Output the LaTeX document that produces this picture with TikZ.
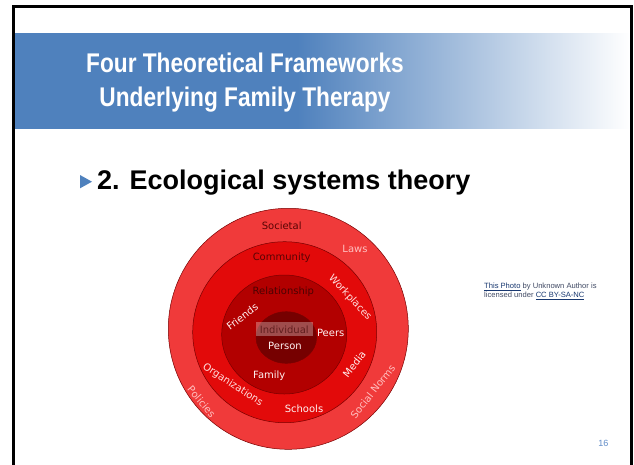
\documentclass[tikz,border=0pt]{standalone}
\usepackage{fontspec}
\setmainfont{Liberation Sans}
\newfontfamily\ringfont{DejaVu Sans}
\newfontfamily\narrowfont[FakeStretch=0.84]{Liberation Sans}
\usepackage{xcolor}
\usetikzlibrary{calc}

\definecolor{slideblue}{RGB}{79,129,189}
\definecolor{ringA}{RGB}{240,58,58}
\definecolor{ringB}{RGB}{226,10,10}
\definecolor{ringC}{RGB}{178,0,0}
\definecolor{ringD}{RGB}{118,0,0}
\definecolor{ringedge}{RGB}{120,0,0}
\definecolor{darklbl}{RGB}{88,4,4}
\definecolor{indlbl}{RGB}{96,30,30}
\definecolor{pinklbl}{RGB}{255,192,192}
\definecolor{palelbl}{RGB}{255,222,222}
\definecolor{whitelbl}{RGB}{255,242,242}
\definecolor{linkblue}{RGB}{24,56,112}
\definecolor{credgrey}{RGB}{64,74,100}
\definecolor{pageblue}{RGB}{96,140,200}

% band: solid blue over its left part, then fading to white
\pgfdeclarehorizontalshading{bandfade}{100bp}{color(0bp)=(slideblue); color(48bp)=(slideblue); color(75bp)=(white); color(100bp)=(white)}

\begin{document}
\begin{tikzpicture}[x=1pt,y=-1pt,
	lbl/.style={font=\ringfont\fontsize{10}{12}\selectfont, inner sep=0pt},
	credit/.style={font=\fontsize{7.6}{9}\selectfont, text=credgrey, inner sep=0pt, anchor=base west},
	title/.style={font=\narrowfont\bfseries\fontsize{27}{32}\selectfont, text=white, inner sep=0pt, anchor=base}]
				\useasboundingbox (0,0) rectangle (634,464);
				\fill[white] (0,0) rectangle (634,464);
				%title band
				\shade[shading=bandfade] (14,33) rectangle (630,128);
				\draw[line width=3pt] (13.5,470) -- (13.5,6.5) -- (631,6.5) -- (631,470);
				\node[title] (titleA) at (245,72.7){Four Theoretical Frameworks};
				\node[title] (titleB) at (245,106){Underlying Family Therapy};

				%bullet line
				\fill[slideblue] (80,175) -- (92,181.7) -- (80,188.3) -- cycle;
				\node[anchor=base west, inner sep=0pt, font=\bfseries\fontsize{27}{32}\selectfont] (bullet) at (97,189){2. Ecological systems theory};

				%% rings drawn with a loop, outside in
				\foreach \cx/\cy/\rx/\ry/\col in {288.3/328.8/120/120.5/ringA, 284.7/332.2/92/90.5/ringB, 284.2/334.5/62.5/59.5/ringC, 286.3/337.5/30.3/25.8/ringD}{
					\filldraw[fill=\col, draw=ringedge, line width=.5pt] (\cx,\cy) ellipse [x radius=\rx, y radius=\ry];
					}
				\fill[white, opacity=.3] (256,321.7) rectangle (312.7,335.5);

				\node[lbl, text=darklbl] (societal) at (281.7,225.7){Societal};
				\node[lbl, text=darklbl] (community) at (281.7,257.7){Community};
				\node[lbl, text=darklbl!85!black] (relationship) at (283.3,291.7){Relationship};
				\node[lbl, text=indlbl] (individual) at (284.3,329.3){Individual};
				\node[lbl, text=whitelbl] (person) at (285,345.7){Person};
				\node[lbl, text=pinklbl] (laws) at (355,249.3){Laws};
				\node[lbl, text=palelbl, rotate=-47] (workplaces) at (350,297.7){Workplaces};
				\node[lbl, text=whitelbl, rotate=37] (friends) at (242.3,316.7){Friends};
				\node[lbl, text=whitelbl] (peers) at (330.7,332.7){Peers};
				\node[lbl, text=whitelbl] (family) at (269.3,375.7){Family};
				\node[lbl, text=whitelbl, rotate=52] (media) at (354.3,364){Media};
				\node[lbl, text=palelbl, rotate=-33] (organizations) at (232.7,385){Organizations};
				\node[lbl, text=whitelbl] (schools) at (304,408.3){Schools};
				\node[lbl, text=pinklbl, rotate=-50] (policies) at (201.7,401.7){Policies};
				\node[lbl, text=pinklbl, rotate=52] (socialnorms) at (372.7,391.7){Social Norms};

				%photo credit and page number
				\node[credit] (creditA) at (484,288.3){\textcolor{linkblue}{\underline{This Photo}} by Unknown Author is};
				\node[credit] (creditB) at (484,297.5){licensed under \textcolor{linkblue}{\underline{CC BY-SA-NC}}};
				\node[anchor=base, inner sep=0pt, text=pageblue, font=\fontsize{9}{11}\selectfont] (pagenum) at (603.3,446.7){16};
				\end{tikzpicture}
\end{document}
